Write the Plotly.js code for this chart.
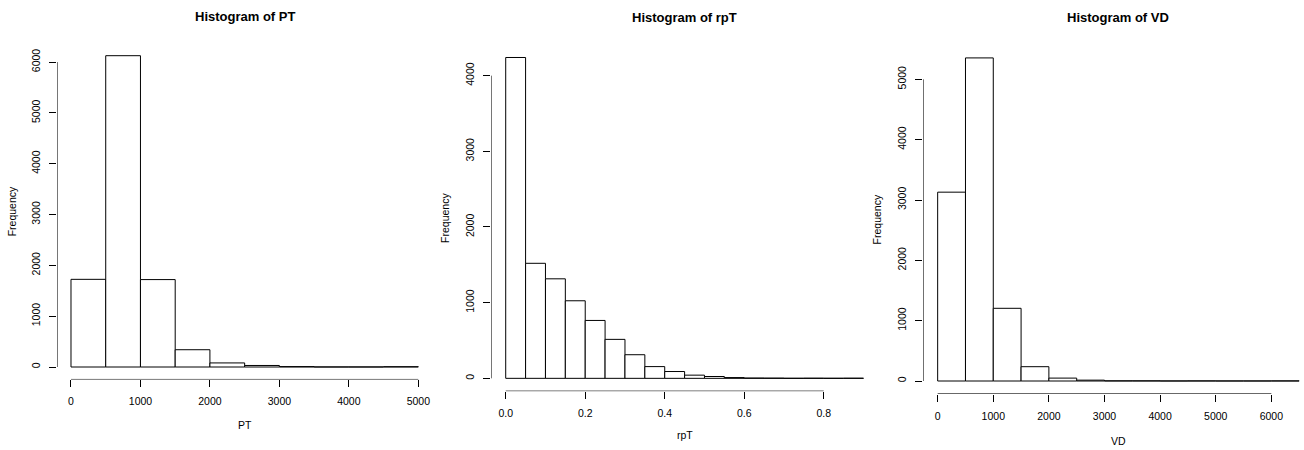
<!DOCTYPE html>
<html>
<head>
<meta charset="utf-8">
<script src="https://cdn.plot.ly/plotly-3.0.1.min.js"></script>
<style>html,body{margin:0;padding:0;background:#fff;}#chart{width:1304px;height:450px;}</style>
</head>
<body>
<div id="chart"></div>
<script>
// ---- data ----
const PT_breaks = [0, 500, 1000, 1500, 2000, 2500, 3000, 3500, 4000, 4500, 5000];
const PT_counts = [1725, 6125, 1720, 340, 80, 30, 8, 1, 1, 6];
const PT_xticks = [0, 1000, 2000, 3000, 4000, 5000];
const PT_xlabels = ["0", "1000", "2000", "3000", "4000", "5000"];
const PT_yticks = [0, 1000, 2000, 3000, 4000, 5000, 6000];

const rpT_breaks = [0, 0.05, 0.1, 0.15, 0.2, 0.25, 0.3, 0.35, 0.4, 0.45, 0.5, 0.55, 0.6, 0.65, 0.7, 0.75, 0.8, 0.85, 0.9];
const rpT_counts = [4240, 1520, 1315, 1025, 765, 515, 312, 155, 90, 42, 24, 10, 4, 3, 1, 2, 1, 2];
const rpT_xticks = [0, 0.2, 0.4, 0.6, 0.8];
const rpT_xlabels = ["0.0", "0.2", "0.4", "0.6", "0.8"];
const rpT_yticks = [0, 1000, 2000, 3000, 4000];

const VD_breaks = [0, 500, 1000, 1500, 2000, 2500, 3000, 3500, 4000, 4500, 5000, 5500, 6000, 6500];
const VD_counts = [3130, 5355, 1205, 237, 48, 14, 3, 3, 1, 2, 1, 1, 2];
const VD_xticks = [0, 1000, 2000, 3000, 4000, 5000, 6000];
const VD_xlabels = ["0", "1000", "2000", "3000", "4000", "5000", "6000"];
const VD_yticks = [0, 1000, 2000, 3000, 4000, 5000];

const titles = ["Histogram of PT", "Histogram of rpT", "Histogram of VD"];
const xNames = ["PT", "rpT", "VD"];
const yName = "Frequency";

// ---- layout geometry (R plot regions, in pixels) ----
const W = 1304, H = 450;
const FONT = '"Liberation Sans", Arial, Helvetica, sans-serif';
const panels = [
  {b: PT_breaks, c: PT_counts, xt: PT_xticks, xl: PT_xlabels, yt: PT_yticks,
   px: [57.1, 432.2], py: [379.45, 43.25], clipRight: null},
  {b: rpT_breaks, c: rpT_counts, xt: rpT_xticks, xl: rpT_xlabels, yt: rpT_yticks,
   px: [491.4, 877.8], py: [391.16, 44.66], clipRight: null},
  {b: VD_breaks, c: VD_counts, xt: VD_xticks, xl: VD_xlabels, yt: VD_yticks,
   px: [923.21, 1313.6], py: [393.92, 45.0], clipRight: W}
];
const titleY = [16, 17, 17];
const xNameY = [425, 435, 441];
const yNameX = [12, 445, 877];

function ext(lo, hi) { const d = (hi - lo) * 0.04; return [lo - d, hi + d]; }

const data = [];
const layout = {
  width: W, height: H,
  margin: {l: 0, r: 0, t: 0, b: 0, pad: 0},
  paper_bgcolor: "#fff", plot_bgcolor: "#fff",
  showlegend: false,
  font: {family: FONT, size: 10.5, color: "#000"},
  annotations: []
};

panels.forEach((p, i) => {
  const n = i + 1;
  const xa = "x" + (n === 1 ? "" : n), ya = "y" + (n === 1 ? "" : n);
  const xk = "xaxis" + (n === 1 ? "" : n), yk = "yaxis" + (n === 1 ? "" : n);
  let xr = ext(p.b[0], p.b[p.b.length - 1]);
  const yr = ext(0, Math.max(...p.c));
  let dx = [p.px[0] / W, p.px[1] / W];
  if (p.clipRight) {
    const frac = (p.clipRight - p.px[0]) / (p.px[1] - p.px[0]);
    xr = [xr[0], xr[0] + (xr[1] - xr[0]) * frac];
    dx = [p.px[0] / W, 1];
  }
  const dy = [1 - p.py[0] / H, 1 - p.py[1] / H];

  const centers = [], widths = [];
  for (let k = 0; k < p.c.length; k++) {
    centers.push((p.b[k] + p.b[k + 1]) / 2);
    widths.push(p.b[k + 1] - p.b[k]);
  }
  data.push({
    type: "bar", x: centers, y: p.c, width: widths, xaxis: xa, yaxis: ya,
    marker: {color: "#ffffff", line: {color: "#000", width: 1}},
    hoverinfo: "x+y"
  });
  // R-style axis lines spanning first to last tick
  data.push({
    type: "scatter", mode: "lines", xaxis: xa, yaxis: ya, cliponaxis: false,
    x: [p.xt[0], p.xt[p.xt.length - 1]], y: [yr[0], yr[0]],
    line: {color: "#000", width: 1}, hoverinfo: "skip"
  });
  data.push({
    type: "scatter", mode: "lines", xaxis: xa, yaxis: ya, cliponaxis: false,
    x: [xr[0], xr[0]], y: [p.yt[0], p.yt[p.yt.length - 1]],
    line: {color: "#000", width: 1}, hoverinfo: "skip"
  });

  layout[xk] = {
    domain: dx, range: xr, anchor: ya, showgrid: false, zeroline: false, showline: false,
    ticks: "outside", ticklen: 7, tickwidth: 1, tickcolor: "#000",
    tickvals: p.xt, ticktext: p.xl, tickfont: {family: FONT, size: 10.5, color: "#000"},
    ticklabelstandoff: 5, fixedrange: true
  };
  layout[yk] = {
    domain: dy, range: yr, anchor: xa, showgrid: false, zeroline: false, showline: false,
    ticks: "outside", ticklen: 7, tickwidth: 1, tickcolor: "#000",
    tickvals: p.yt, ticktext: p.yt.map(String), tickangle: -90,
    tickfont: {family: FONT, size: 10.5, color: "#000"},
    ticklabelstandoff: 5, fixedrange: true
  };

  const cx = (p.px[0] + p.px[1]) / 2;
  layout.annotations.push({
    text: "<b>" + titles[i] + "</b>", xref: "paper", yref: "paper",
    x: cx / W, y: 1 - titleY[i] / H, xanchor: "center", yanchor: "middle",
    showarrow: false, font: {family: FONT, size: 13, color: "#000"}
  });
  layout.annotations.push({
    text: xNames[i], xref: "paper", yref: "paper",
    x: cx / W, y: 1 - xNameY[i] / H, xanchor: "center", yanchor: "middle",
    showarrow: false, font: {family: FONT, size: 10.5, color: "#000"}
  });
  layout.annotations.push({
    text: yName, xref: "paper", yref: "paper", textangle: -90,
    x: yNameX[i] / W, y: 1 - ((p.py[0] + p.py[1]) / 2) / H, xanchor: "center", yanchor: "middle",
    showarrow: false, font: {family: FONT, size: 10.5, color: "#000"}
  });
});

Plotly.newPlot("chart", data, layout, {displayModeBar: false, staticPlot: true});
</script>
</body>
</html>
